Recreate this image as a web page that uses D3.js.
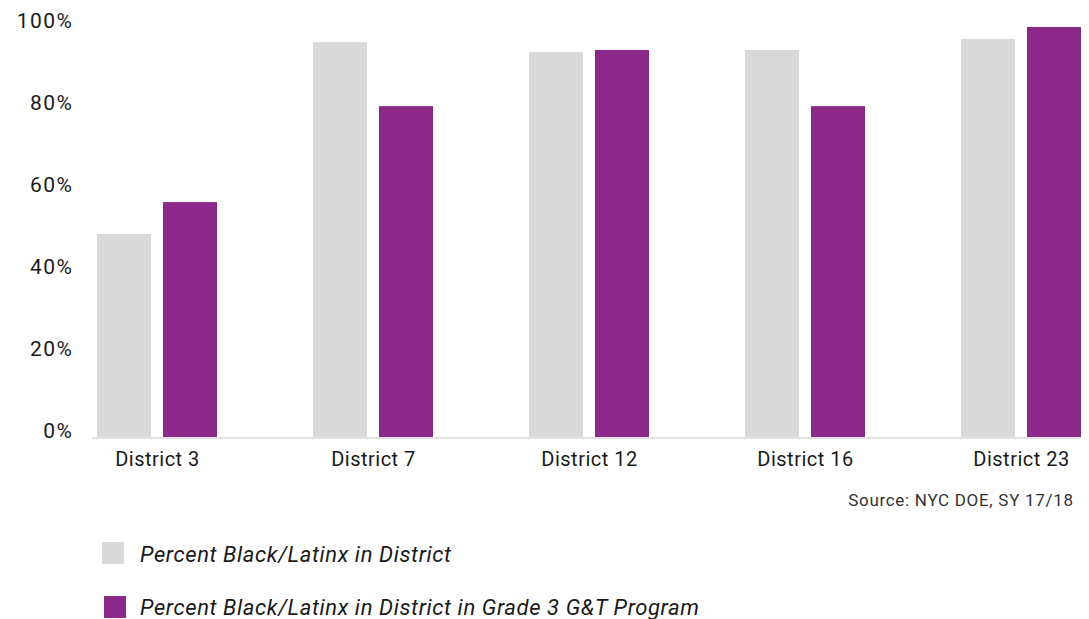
<!DOCTYPE html>
<html>
<head>
<meta charset="utf-8">
<script src="https://cdn.jsdelivr.net/npm/d3@7"></script>
<style>
  html, body { margin: 0; padding: 0; background: #fff; }
  svg { display: block; font-family: Roboto, "Liberation Sans", sans-serif; }
</style>
</head>
<body>
<svg id="chart" width="1089" height="619"></svg>
<script>
const categories = ["District 3", "District 7", "District 12", "District 16", "District 23"];
const seriesNames = ["Percent Black/Latinx in District", "Percent Black/Latinx in District in Grade 3 G&T Program"];
const districtPct = [49.5, 96.3, 93.9, 94.4, 97.1];
const gtPct = [57.3, 80.7, 94.4, 80.7, 100];
const yTicks = [0, 20, 40, 60, 80, 100];
const sourceText = "Source: NYC DOE, SY 17/18";
const colors = ["#d9d9d9", "#8b2888"];

const svg = d3.select("#chart");

const y = d3.scaleLinear().domain([0, 100]).range([437, 27]);
const x0 = d3.scaleBand().domain(categories).range([49, 1129]).paddingInner(96 / 216).paddingOuter(48 / 216);
const x1 = d3.scaleBand().domain(seriesNames).range([0, x0.bandwidth()]).paddingInner(0.1818).paddingOuter(0);

const data = categories.map((c, i) => ({ cat: c, vals: [districtPct[i], gtPct[i]] }));

// baseline
svg.append("line")
  .attr("x1", 92).attr("x2", 1081)
  .attr("y1", 438).attr("y2", 438)
  .attr("stroke", "#d9d9d9").attr("stroke-width", 1.6);

// bars
const groups = svg.append("g").selectAll("g").data(data).join("g")
  .attr("transform", d => `translate(${x0(d.cat)},0)`);
groups.selectAll("rect").data(d => d.vals.map((v, j) => ({ s: seriesNames[j], v, j })))
  .join("rect")
  .attr("x", d => x1(d.s))
  .attr("width", x1.bandwidth())
  .attr("y", d => y(d.v))
  .attr("height", d => y(0) - y(d.v))
  .attr("fill", d => colors[d.j]);

// y axis
const yAxis = d3.axisLeft(y).tickValues(yTicks).tickFormat(d => d + "%").tickSize(0).tickPadding(0);
const gy = svg.append("g").attr("transform", "translate(73.5,0)").call(yAxis);
gy.select(".domain").remove();
gy.selectAll("text")
  .attr("dy", 0)
  .attr("font-size", 21)
  .attr("letter-spacing", 1.5)
  .attr("font-family", "Roboto, 'Liberation Sans', sans-serif")
  .attr("fill", "#1a1a1a");

// x axis
const xAxis = d3.axisBottom(d3.scalePoint().domain(categories).range([x0(categories[0]) + x0.bandwidth() / 2, x0(categories[4]) + x0.bandwidth() / 2]))
  .tickSize(0).tickPadding(0);
const gx = svg.append("g").attr("transform", "translate(0,466)").call(xAxis);
gx.select(".domain").remove();
gx.selectAll("text")
  .attr("y", 0).attr("dy", 0)
  .attr("font-size", 20)
  .attr("letter-spacing", 0.5)
  .attr("font-family", "Roboto, 'Liberation Sans', sans-serif")
  .attr("fill", "#1a1a1a");

// source
svg.append("text")
  .attr("x", 1073.7).attr("y", 506)
  .attr("text-anchor", "end")
  .attr("font-size", 17)
  .attr("letter-spacing", 0.7)
  .attr("fill", "#333")
  .text(sourceText);

// legend
const legendPos = [{ rx: 102, ry: 542, ty: 562 }, { rx: 104, ry: 596, ty: 615 }];
const leg = svg.append("g").selectAll("g").data(seriesNames).join("g");
leg.append("rect")
  .attr("x", (d, i) => legendPos[i].rx).attr("y", (d, i) => legendPos[i].ry)
  .attr("width", 22).attr("height", 22)
  .attr("fill", (d, i) => colors[i]);
leg.append("text")
  .attr("x", 140).attr("y", (d, i) => legendPos[i].ty)
  .attr("font-size", 22)
  .attr("letter-spacing", 0.6)
  .attr("font-style", "italic")
  .attr("fill", "#1a1a1a")
  .text(d => d);
</script>
</body>
</html>
